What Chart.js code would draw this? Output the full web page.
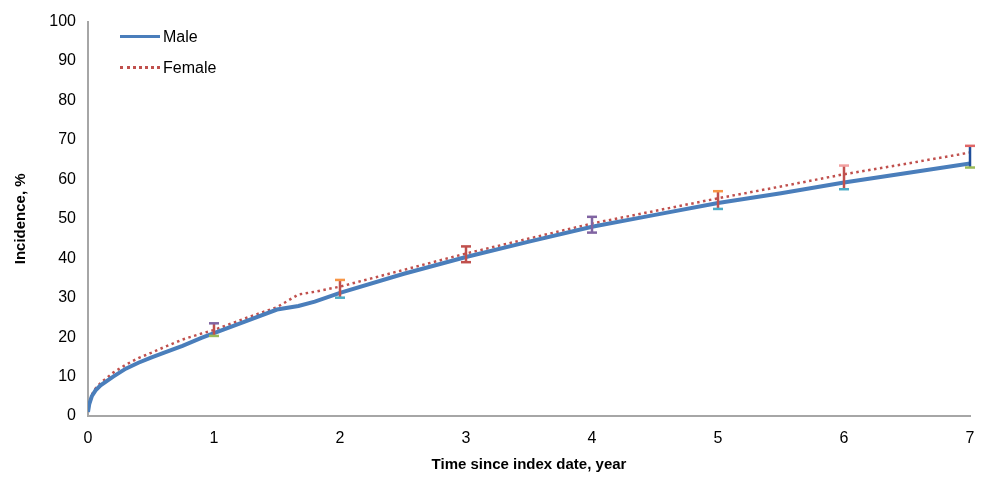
<!DOCTYPE html>
<html>
<head>
<meta charset="utf-8">
<script src="https://cdn.jsdelivr.net/npm/chart.js@4"></script>
<style>
  html, body { margin: 0; padding: 0; background: #fff; }
  #wrap { position: relative; width: 995px; height: 478px; }
  #legend { position: absolute; left: 120px; top: 21px; font-family: "Liberation Sans", Arial, sans-serif; font-size: 16px; color: #000; }
  #legend div { display: flex; align-items: center; height: 31px; }
  #legend span.sw { display: inline-block; width: 40px; margin-right: 3px; }
</style>
</head>
<body>
<div id="wrap">
  <canvas id="chart" width="995" height="478"></canvas>
  <div id="legend">
    <div><span class="sw" style="border-top:3px solid #4a7ebb"></span>Male</div>
    <div><span class="sw" style="border-top:3px dotted #c0504d"></span>Female</div>
  </div>
</div>
<script>
// ── Data ─────────────────────────────────────────────────────
const maleX   = [0, 0.01, 0.03, 0.06, 0.1, 0.2, 0.3, 0.4, 0.5, 0.6, 0.75, 0.9, 1, 1.25, 1.5, 1.67, 1.8, 2, 2.5, 3, 3.5, 4, 4.5, 5, 5.5, 6, 6.5, 7];
const maleY   = [1, 3, 5, 6.5, 7.8, 10, 12, 13.5, 14.8, 16, 17.8, 19.8, 21, 24, 27, 27.9, 29, 31.2, 36, 40.3, 44.2, 48, 51, 54, 56.5, 59.2, 61.6, 64];
const femaleX = [0, 0.01, 0.03, 0.06, 0.1, 0.2, 0.3, 0.4, 0.5, 0.6, 0.75, 0.9, 1, 1.25, 1.5, 1.67, 1.8, 2, 2.5, 3, 3.5, 4, 4.5, 5, 5.5, 6, 6.5, 7];
const femaleY = [1, 3.3, 5.4, 7, 8.4, 11, 13, 14.7, 16, 17.4, 19.4, 20.9, 21.8, 24.8, 27.6, 30.8, 31.5, 32.8, 37, 41.2, 45, 48.8, 52, 55.2, 58.2, 61.3, 64, 66.8];

// error bars at each year
const errYears   = [1, 2, 3, 4, 5, 6, 7];
const errHigh    = [23.5, 34.5, 43, 50.5, 57, 63.5, 68.5];
const errLow     = [20.3, 30, 39, 46.5, 52.5, 57.5, 63];
const errTopCol  = ["#8064a2", "#f79646", "#c0504d", "#8064a2", "#f79646", "#f2a0a0", "#e06666"];
const errLowCol  = ["#9bbb59", "#4bacc6", "#c0504d", "#8064a2", "#4bacc6", "#4bacc6", "#9bbb59"];
const errMidCol  = ["#c0504d", "#c0504d", "#c0504d", "#8064a2", "#c0504d", "#c0504d", "#1f4e9a"];

const xTicks = [0, 1, 2, 3, 4, 5, 6, 7];
const yTicks = [0, 10, 20, 30, 40, 50, 60, 70, 80, 90, 100];

const toPts = (xs, ys) => xs.map((x, i) => ({ x: x, y: ys[i] }));

// ── Error bar plugin ─────────────────────────────────────────
const errorBars = {
    id: "errorBars",
    afterDatasetsDraw(chart) {
        const ctx = chart.ctx;
        const xs = chart.scales.x, ys = chart.scales.y;
        ctx.save();
        ctx.lineWidth = 2.5;
        errYears.forEach((yr, i) => {
            const px = xs.getPixelForValue(yr);
            const top = ys.getPixelForValue(errHigh[i]);
            const bot = ys.getPixelForValue(errLow[i]);
            ctx.strokeStyle = errMidCol[i];
            ctx.beginPath();
            ctx.moveTo(px, top);
            ctx.lineTo(px, bot);
            ctx.stroke();
            ctx.strokeStyle = errTopCol[i];
            ctx.beginPath();
            ctx.moveTo(px - 5, top);
            ctx.lineTo(px + 5, top);
            ctx.stroke();
            ctx.strokeStyle = errLowCol[i];
            ctx.beginPath();
            ctx.moveTo(px - 5, bot);
            ctx.lineTo(px + 5, bot);
            ctx.stroke();
        });
        ctx.restore();
    }
};

// ── Chart ────────────────────────────────────────────────────
const font = "'Liberation Sans', Arial, sans-serif";

new Chart(document.getElementById("chart"), {
    type: "line",
    data: {
        datasets: [
            {
                label: "Male",
                data: toPts(maleX, maleY),
                borderColor: "#4a7ebb",
                borderWidth: 4,
                pointRadius: 0,
                tension: 0
            },
            {
                label: "Female",
                data: toPts(femaleX, femaleY),
                borderColor: "#c0504d",
                borderWidth: 2.5,
                borderDash: [2.5, 3.5],
                pointRadius: 0,
                tension: 0
            }
        ]
    },
    options: {
        responsive: false,
        animation: false,
        devicePixelRatio: 1,
        layout: { padding: { top: 6, right: 25, left: 8, bottom: 0 } },
        plugins: {
            legend: { display: false },
            tooltip: { enabled: false }
        },
        scales: {
            x: {
                type: "linear",
                min: 0,
                max: 7,
                afterBuildTicks: s => { s.ticks = xTicks.map(v => ({ value: v })); },
                grid: { display: false, drawTicks: false },
                border: { color: "#a6a6a6", width: 2 },
                ticks: { color: "#000", font: { family: font, size: 16 }, padding: 13 },
                title: { display: true, text: "Time since index date, year", color: "#000", font: { family: font, size: 15, weight: "bold" }, padding: { top: 16 } },
                afterFit: s => { s.height = 62; }
            },
            y: {
                min: 0,
                max: 100,
                afterBuildTicks: s => { s.ticks = yTicks.map(v => ({ value: v })); },
                grid: { display: false, drawTicks: false },
                border: { color: "#a6a6a6", width: 2 },
                ticks: { color: "#000", font: { family: font, size: 16 }, padding: 12 },
                title: { display: true, text: "Incidence, %", color: "#000", font: { family: font, size: 15, weight: "bold" } },
                afterFit: s => { s.width = 80; }
            }
        }
    },
    plugins: [errorBars]
});
</script>
</body>
</html>
